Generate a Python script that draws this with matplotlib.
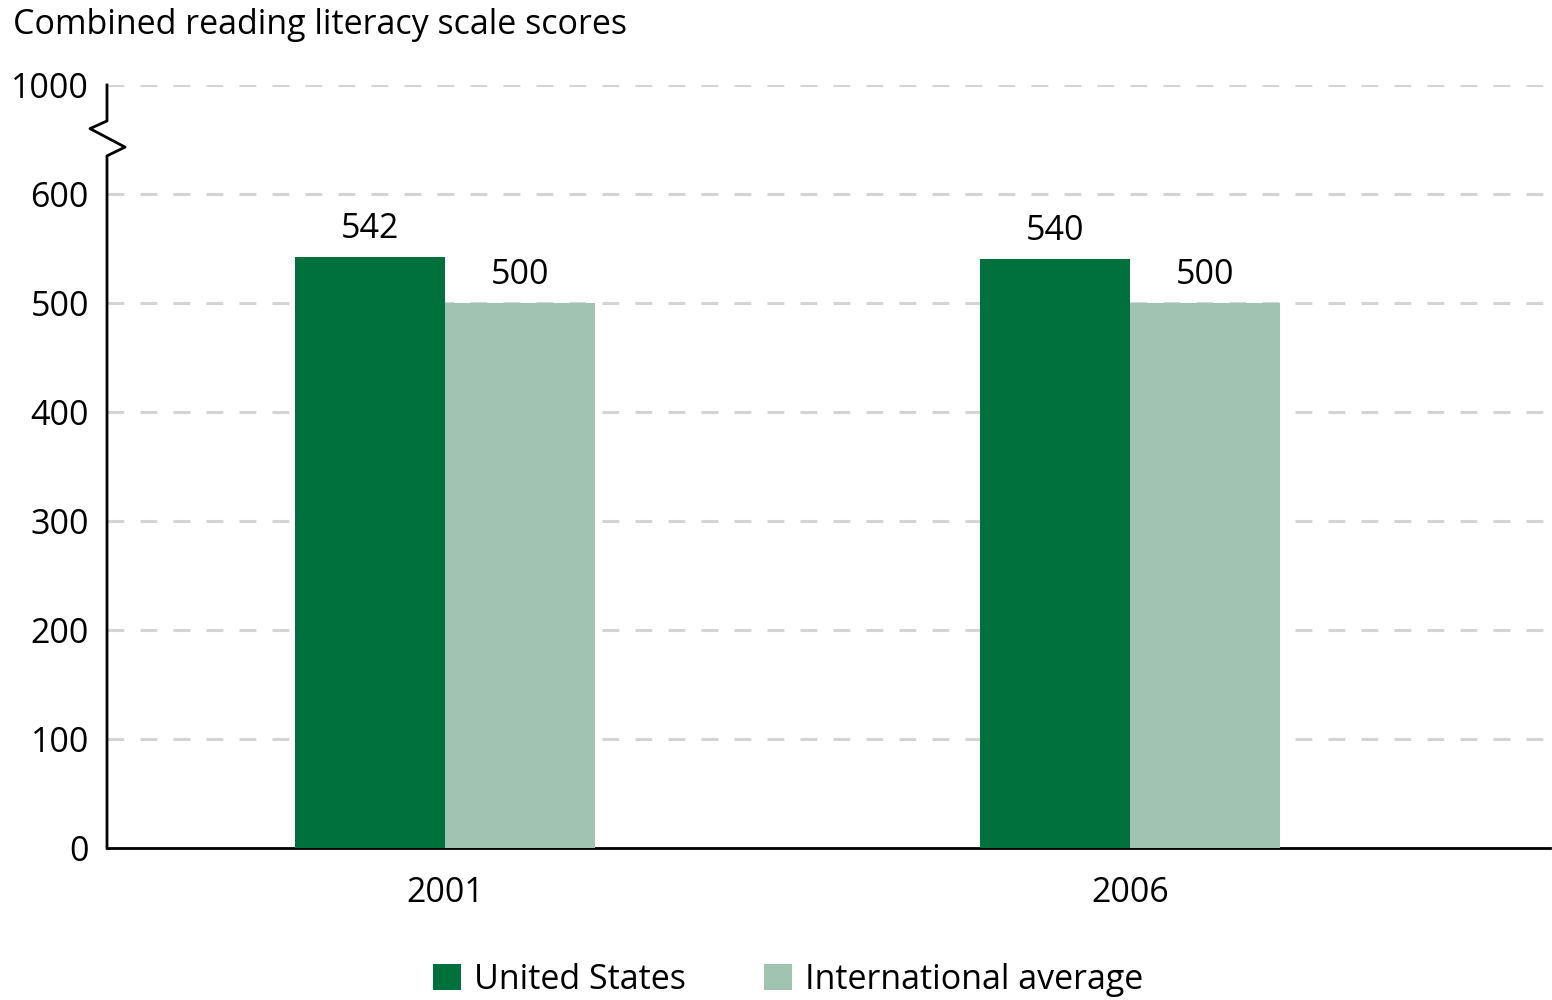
import numpy as np
import matplotlib.pyplot as plt

plt.rcParams['font.family'] = ['Open Sans', 'DejaVu Sans']

years = ['2001', '2006']
us_scores = [542, 540]
intl_scores = [500, 500]
series_names = ['United States', 'International average']
tick_values = [0, 100, 200, 300, 400, 500, 600]
top_label = '1000'

dark = '#00703c'
light = '#a0c4b1'
fs = 24.5

fig = plt.figure(figsize=(15.52, 10), dpi=100)
ax = fig.add_axes([107/1552, 0.152, 1 - 107/1552 - 2/1552, 0.915 - 0.152])

x = np.arange(len(years))
w = 0.219
b1 = ax.bar(x - w/2, us_scores, w, color=dark, zorder=3, label=series_names[0])
b2 = ax.bar(x + w/2, intl_scores, w, color=light, zorder=3, label=series_names[1])

for bars, vals in ((b1, us_scores), (b2, intl_scores)):
    for r, v in zip(bars, vals):
        ax.text(r.get_x() + r.get_width()/2, v + 10, str(v), ha='center', va='bottom',
                fontsize=fs)

# axis runs 0-600 then breaks up to 1000 (drawn at 700)
ax.set_ylim(0, 700)
ax.set_xlim(-0.493, 1.613)
ax.set_yticks(tick_values + [700])
ax.set_yticklabels([str(t) for t in tick_values] + [top_label], fontsize=fs)
ax.set_xticks(x)
ax.set_xticklabels(years, fontsize=fs)
ax.tick_params(length=0, pad=13)
ax.tick_params(axis='x', pad=20)

for t in tick_values[1:] + [700]:
    ax.plot([0, 1], [t, t], transform=ax.get_yaxis_transform(), color='#d4d4d4',
            lw=2.2, dashes=(5.5, 5.3), zorder=1)

for s in ['top', 'right', 'left']:
    ax.spines[s].set_visible(False)
ax.spines['bottom'].set_linewidth(2)

# left axis with zigzag break
bx = [0, 0, 0.0125, -0.0118, 0, 0]
by = [0, 635, 643, 660, 667, 700]
ax.plot(bx, by, transform=ax.get_yaxis_transform(), color='black', lw=2,
        clip_on=False, zorder=4)

fig.text(13/1552, 1 - 25/1000, 'Combined reading literacy scale scores', fontsize=fs,
         va='center', ha='left')

fig.legend(handles=[b1, b2], loc='center', bbox_to_anchor=(0.508, 0.02), ncol=2,
           frameon=False, fontsize=fs, handlelength=0.8, handleheight=0.8,
           handletextpad=0.4, columnspacing=2.3)

fig.savefig('out.png', dpi=100)
